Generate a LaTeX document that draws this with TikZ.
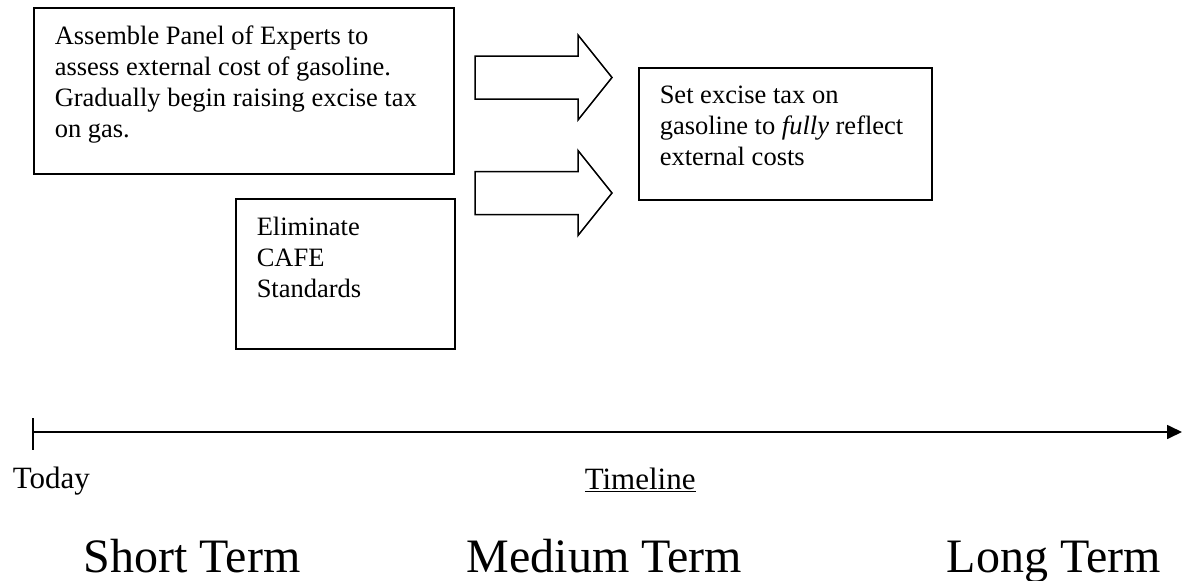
\documentclass[tikz,border=0pt]{standalone}
\usepackage{fontspec}
\setmainfont{Liberation Serif}
\usetikzlibrary{arrows.meta,positioning}

\begin{document}
\begin{tikzpicture}[x=1pt,y=-1pt,line width=1.5pt]
  \tikzstyle{box}=[draw=black,rectangle,inner sep=0pt,anchor=north west]
  \tikzstyle{boxtext}=[inner sep=0pt,align=left,font=\fontsize{26.5}{31}\selectfont]
  \tikzstyle{bigarrow}=[draw=black,line width=1.5pt,line join=miter]
  \tikzstyle{tlabel}=[inner sep=0pt,anchor=base west,font=\fontsize{31}{36}\selectfont]
  \tikzstyle{term}=[inner sep=0pt,anchor=base west,font=\fontsize{48}{56}\selectfont]

  \useasboundingbox (0,0) rectangle (1184,581);

  \node[box,minimum width=420pt,minimum height=166pt] (panel)   at (33,7)   {};
  \node[box,minimum width=219pt,minimum height=150pt] (cafe)    at (235,198) {};
  \node[box,minimum width=293pt,minimum height=132pt] (fulltax) at (638,67)  {};

  \node[boxtext] (paneltext) [below right=18pt and 21pt of panel.north west]
    {Assemble Panel of Experts to\\assess external cost of gasoline.\\Gradually begin raising excise tax\\on gas.};
  \node[boxtext] (cafetext) [below right=18pt and 21pt of cafe.north west]
    {Eliminate\\CAFE\\Standards};
  \node[boxtext] (fulltaxtext) [below right=18pt and 21pt of fulltax.north west]
    {Set excise tax on\\gasoline to \textit{fully} reflect\\external costs};

  % block arrows between the boxes
  \foreach \ay in {77.5,193}
    \draw[bigarrow] (475,\ay-21.5) -- (578,\ay-21.5) -- (578,\ay-42.5) -- (612,\ay)
      -- (578,\ay+42.5) -- (578,\ay+21.5) -- (475,\ay+21.5) -- cycle;

  % timeline
  \coordinate (start)  at (33,432);
  \coordinate (finish) at (1182,432);
  \draw[line width=1.7pt,-{Triangle[length=15pt,width=14pt]}] (start) -- (finish);
  \draw[line width=1.2pt] ([yshift=14pt]start) -- ([yshift=-18pt]start);

  \node[tlabel] (today)    at (12,488)  {Today};
  \node[tlabel] (timeline) at (584,489) {\underline{Timeline}};

  \node[term] (short)  at (83,572)  {Short Term};
  \node[term] (medium) at (466,572) {Medium Term};
  \node[term] (long)   at (946,572) {Long Term};
\end{tikzpicture}
\end{document}
